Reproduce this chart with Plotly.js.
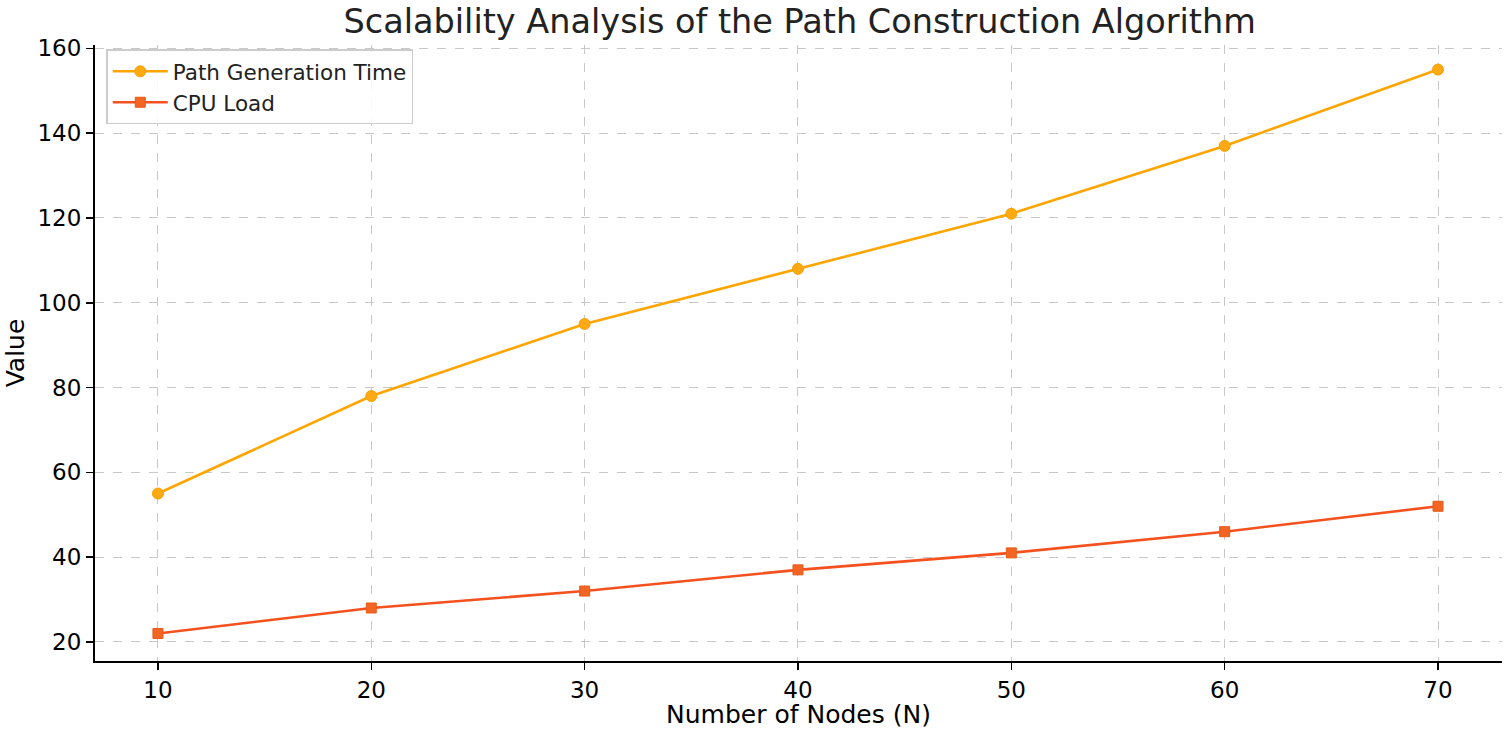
<!DOCTYPE html>
<html>
<head>
<meta charset="utf-8">
<script src="https://cdn.plot.ly/plotly-3.0.1.min.js"></script>
<style>html,body{margin:0;padding:0;background:#fff;}#chart{width:1506px;height:729px;}</style>
</head>
<body>
<div id="chart"></div>
<script>
const nodes = [10, 20, 30, 40, 50, 60, 70];
const pathGenerationTime = [55, 78, 95, 108, 121, 137, 155];
const cpuLoad = [22, 28, 32, 37, 41, 46, 52];
const yTicks = [20, 40, 60, 80, 100, 120, 140, 160];
const xTicks = [10, 20, 30, 40, 50, 60, 70];

const font = 'DejaVu Sans, sans-serif';
const traces = [
  {
    x: nodes, y: pathGenerationTime, name: 'Path Generation Time',
    mode: 'lines+markers', type: 'scatter',
    line: {color: '#FFA500', width: 2.6},
    marker: {symbol: 'circle', size: 11, color: '#FFAA14', line: {color: '#F5A000', width: 1}}
  },
  {
    x: nodes, y: cpuLoad, name: 'CPU Load',
    mode: 'lines+markers', type: 'scatter',
    line: {color: '#F4511E', width: 2.6},
    marker: {symbol: 'square', size: 10, color: '#F26522', line: {color: '#E85A1A', width: 1}}
  }
];

const layout = {
  width: 1506, height: 729,
  paper_bgcolor: '#fff', plot_bgcolor: '#fff',
  margin: {l: 95, r: 4, t: 45, b: 68, pad: 0},
  font: {family: font, color: '#000'},
  title: {text: 'Scalability Analysis of the Path Construction Algorithm',
          font: {family: font, size: 33.5, color: '#222'}, x: 0.531, xanchor: 'center',
          yref: 'container', y: 0.971, yanchor: 'middle'},
  xaxis: {
    range: [7.05, 73.0], tickvals: xTicks, ticktext: xTicks.map(String),
    showgrid: true, gridcolor: '#c8c8c8', griddash: 'dash', gridwidth: 1,
    showline: true, linecolor: '#000', linewidth: 2, mirror: false,
    ticks: 'outside', ticklen: 7, tickwidth: 1.5, tickcolor: '#000',
    tickfont: {family: font, size: 23, color: '#000'}, zeroline: false,
    title: {text: 'Number of Nodes (N)', font: {family: font, size: 25, color: '#000'}, standoff: 9}
  },
  yaxis: {
    range: [15.5, 160.8], tickvals: yTicks, ticktext: yTicks.map(String),
    showgrid: true, gridcolor: '#c8c8c8', griddash: 'dash', gridwidth: 1,
    showline: true, linecolor: '#000', linewidth: 2, mirror: false,
    ticks: 'outside', ticklen: 7, tickwidth: 1.5, tickcolor: '#000',
    tickfont: {family: font, size: 23, color: '#000'}, zeroline: false,
    title: {text: 'Value', font: {family: font, size: 25, color: '#000'}, standoff: 6}
  },
  legend: {
    x: 0.008, y: 0.993, xanchor: 'left', yanchor: 'top',
    bgcolor: 'rgba(255,255,255,0.85)', bordercolor: '#cccccc', borderwidth: 1.5,
    font: {family: font, size: 21.5, color: '#222'}, itemwidth: 55
  },
  showlegend: true
};

Plotly.newPlot('chart', traces, layout, {displayModeBar: false, staticPlot: true});
</script>
</body>
</html>
